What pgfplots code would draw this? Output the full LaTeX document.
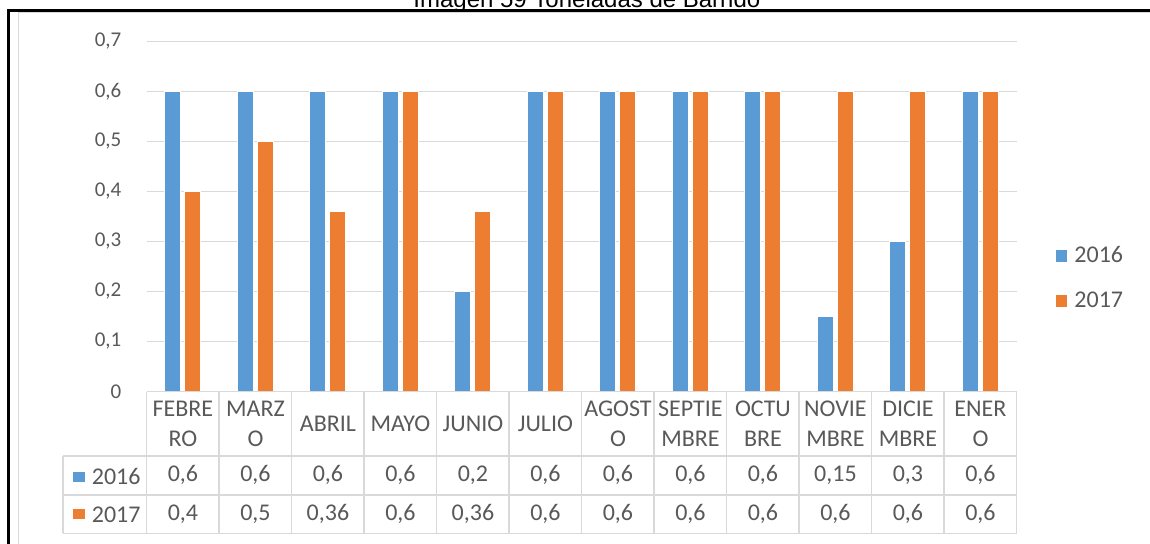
\documentclass[border=0pt]{standalone}
\usepackage{fontspec}
\setmainfont{Carlito}
\newfontfamily\arialfont{Liberation Sans}
\usepackage{pgfplots}
\usepackage{pgfplotstable}
\pgfplotsset{compat=1.18}
\definecolor{cA}{HTML}{5B9BD5}
\definecolor{cB}{HTML}{ED7D31}
\definecolor{txt}{HTML}{595959}
\definecolor{grd}{HTML}{D9D9D9}

\pgfplotstableread{
x a b
0 0.6 0.4
1 0.6 0.5
2 0.6 0.36
3 0.6 0.6
4 0.2 0.36
5 0.6 0.6
6 0.6 0.6
7 0.6 0.6
8 0.6 0.6
9 0.15 0.6
10 0.3 0.6
11 0.6 0.6
}\data

\newcommand\mname[1]{\ifcase#1 FEBRE\\RO\or MARZ\\O\or ABRIL\or MAYO\or JUNIO\or JULIO\or AGOST\\O\or SEPTIE\\MBRE\or OCTU\\BRE\or NOVIE\\MBRE\or DICIE\\MBRE\or ENER\\O\fi}
\newcommand\xlab{%
    \pgfplotstablegetelem{\ticknum}{a}\of\data\let\va\pgfplotsretval
    \pgfplotstablegetelem{\ticknum}{b}\of\data\let\vb\pgfplotsretval
    \fontsize{12}{14}\selectfont
    \begin{tabular}{@{}c@{}}
    \parbox[c][32pt][c]{36pt}{\centering\setlength\baselineskip{15pt}\mname{\ticknum}\par}\\
    \parbox[c][19.5pt][c]{36pt}{\centering\pgfmathprintnumber{\va}}\\
    \parbox[c][19pt][c]{36pt}{\centering\pgfmathprintnumber{\vb}}
    \end{tabular}}

\begin{document}
\begin{tikzpicture}
\path[use as bounding box] (0,0) rectangle (575pt,271.5pt);
\begin{axis}[
  at={(73.35pt,75.75pt)}, anchor=south west,
  scale only axis, width=435pt, height=175pt,
  xmin=-0.5, xmax=11.5, ymin=0, ymax=0.7,
  xtick={0,...,11},
  ytick={0,0.1,0.2,0.3,0.4,0.5,0.6,0.7},
  ymajorgrids, grid style={grd, line width=0.75pt},
  axis line style={draw=none},
  major tick length=0pt,
  /pgf/number format/use comma,
  /pgf/number format/assume math mode=true,
  tick label style={text=txt},
  yticklabel style={font=\fontsize{10.5}{12}\selectfont, anchor=east, inner sep=0pt, xshift=-12.5pt},
  xticklabel style={anchor=north, inner sep=0pt, yshift=0pt},
  xticklabel={\xlab},
  legend style={at={(1.045,0.323)}, anchor=west, draw=none, fill=none,
    inner sep=0pt, outer sep=0pt,
    font=\fontsize{12}{14}\selectfont, text=txt, row sep=13pt,
    nodes={inner sep=0pt}, column sep=0pt},
  legend cell align=left,
  legend image code/.code={\fill[#1,draw=none] (0pt,-2.9pt) rectangle (5.8pt,2.9pt);},
]
\addplot[ybar, bar width=8pt, bar shift=-5pt, fill=cA, draw=white, line width=0.5pt] table[x=x,y=a]{\data};
\addplot[ybar, bar width=8pt, bar shift=5pt, fill=cB, draw=white, line width=0.5pt] table[x=x,y=b]{\data};
\legend{\hspace{3.5pt}2016,\hspace{3.5pt}2017}
\end{axis}
\begin{scope}[x=0.5pt,y=-0.5pt,shift={(0pt,271.5pt)}]
  % outer frame
  \draw[black, line width=1.3pt] (7,10.3) -- (1160,10.3);
  \draw[black, line width=1.5pt] (8,9.6) -- (8,560);
  \draw[grd, line width=0.5pt] (18,560) -- (18,12.8) -- (1160,12.8);
  % title
  \node[anchor=base west, inner sep=0pt, font=\arialfont\fontsize{12}{14}\selectfont] at (413,7.3) {Imagen 59 Toneladas de Barrido};
  % data table grid
  \foreach \k in {0,...,12} {
    \draw[grd, line width=0.75pt] ({146.7+72.5*\k},391.5) -- ({146.7+72.5*\k},533.3);
  }
  \draw[grd, line width=0.75pt] (146.7,391.5) -- (1016.7,391.5);
  \draw[grd, line width=0.75pt] (63,456) -- (63,533.3);
  \foreach \yy in {456,495,533.3} {
    \draw[grd, line width=0.75pt] (63,\yy) -- (1016.7,\yy);
  }
  \fill[cA] (73,471.5) rectangle (84.5,482);
  \fill[cB] (73,508.5) rectangle (84.5,519);
  \node[anchor=west, inner sep=0pt, text=txt, font=\fontsize{12}{14}\selectfont] at (91.5,476.5) {2016};
  \node[anchor=west, inner sep=0pt, text=txt, font=\fontsize{12}{14}\selectfont] at (91.5,514.5) {2017};
\end{scope}
\end{tikzpicture}
\end{document}
